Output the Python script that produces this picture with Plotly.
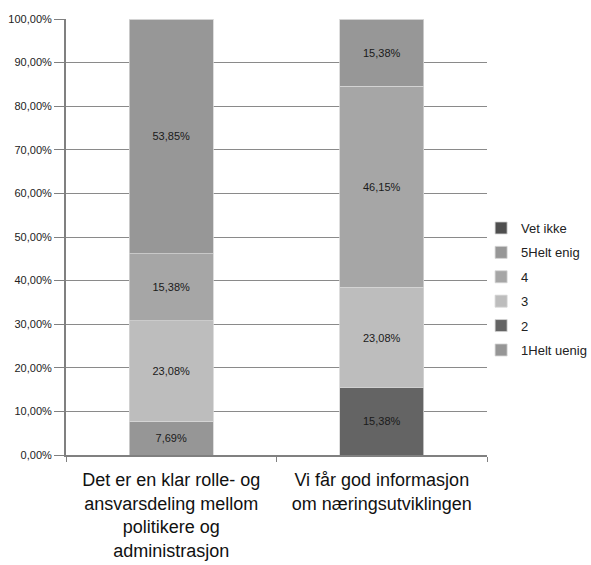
import plotly.graph_objects as go

categories = ["Det er en klar rolle- og<br>ansvarsdeling mellom<br>politikere og<br>administrasjon",
              "Vi får god informasjon<br>om næringsutviklingen"]
series_names = ["1Helt uenig", "2", "3", "4", "5Helt enig", "Vet ikke"]
helt_uenig = [0.0769, 0.0]
to = [0.0, 0.1538]
tre = [0.2308, 0.2308]
fire = [0.1538, 0.4615]
helt_enig = [0.5385, 0.1538]
vet_ikke = [0.0, 0.0]
series_values = [helt_uenig, to, tre, fire, helt_enig, vet_ikke]
colors = ["#969696", "#646464", "#bdbdbd", "#a6a6a6", "#979797", "#4f4f4f"]
y_ticks = [i / 10 for i in range(11)]

FONT = "Liberation Sans, Arial"
fig = go.Figure()
n = len(series_names)
for i, (name, vals, col) in enumerate(zip(series_names, series_values, colors)):
    txt = [("%.2f%%" % (v * 100)).replace(".", ",") if v > 0 else "" for v in vals]
    fig.add_trace(go.Bar(
        x=categories, y=vals, name=name, legendgroup=name, legendrank=n - i,
        marker=dict(color=col, line=dict(color="#d4d4d4", width=0.8)),
        text=txt, textposition="inside", insidetextanchor="middle",
        textfont=dict(family=FONT, size=11, color="#1a1a1a"),
        hoverinfo="skip", width=0.4,
    ))

fig.update_layout(
    barmode="stack",
    width=591, height=565,
    margin=dict(l=66, r=104, t=19, b=110, autoexpand=False),
    paper_bgcolor="white", plot_bgcolor="white",
    separators=",.",
    font=dict(family=FONT, color="#222222"),
    showlegend=True,
    legend=dict(
        traceorder="grouped", tracegroupgap=4.5,
        x=0.986, xanchor="left", y=0.555, yanchor="top",
        font=dict(family=FONT, size=13, color="#222222"),
        itemwidth=30, bgcolor="rgba(0,0,0,0)",
    ),
    uniformtext=dict(minsize=8, mode="show"),
)
fig.update_yaxes(
    range=[0, 1], tickvals=y_ticks, tickformat=".2%",
    showgrid=True, gridcolor="#8a8a8a", gridwidth=1,
    showline=True, linecolor="#808080", linewidth=2,
    ticks="outside", ticklen=10, tickcolor="#808080",
    tickfont=dict(family=FONT, size=11, color="#222222"),
    zeroline=False,
)
fig.update_xaxes(
    showline=True, linecolor="#808080", linewidth=1.5,
    ticks="outside", tickson="boundaries", ticklen=5, tickcolor="#808080",
    ticklabelstandoff=8,
    tickfont=dict(family=FONT, size=18, color="#111111"),
    showgrid=False,
)

fig.write_html("out.html")
